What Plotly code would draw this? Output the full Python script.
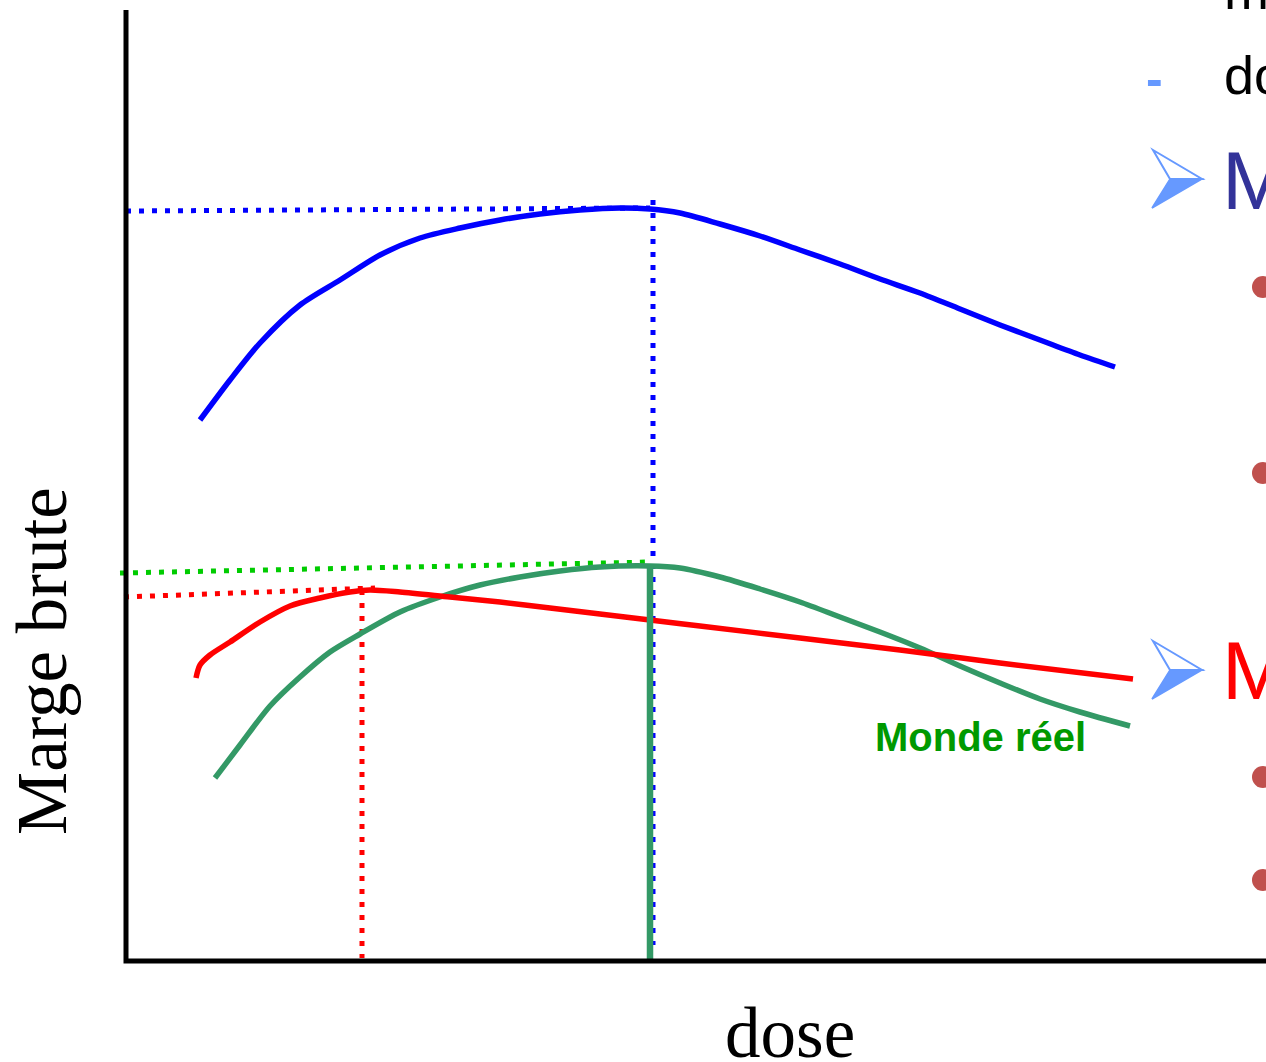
import plotly.graph_objects as go

# ---- data (dose / margin in arbitrary units, origin at axes crossing) ----
blue_dose = [74, 104, 134, 174, 214, 254, 294, 334, 374, 414, 454, 494, 524, 554, 594, 634, 674, 714, 754, 794, 834, 874, 914, 954, 989]
blue_margin = [541, 581, 618, 656, 681, 706, 723, 733, 741, 747, 751, 753, 752, 748, 737, 725, 711, 697, 682, 668, 652, 636, 621, 606, 594]

green_dose = [89, 114, 144, 174, 204, 234, 274, 314, 354, 394, 434, 474, 524, 554, 594, 634, 674, 714, 754, 794, 834, 874, 914, 954, 1004]
green_margin = [183, 216, 255, 284, 309, 327, 349, 364, 376, 384, 390, 394, 395, 393, 384, 372, 359, 344, 329, 313, 295, 278, 262, 249, 235]

red_dose = [70, 74, 84, 104, 134, 164, 194, 224, 244, 274, 324, 374, 424, 474, 524, 574, 674, 774, 874, 1007]
red_margin = [283, 296, 306, 319, 339, 355, 363, 369, 371, 369, 364, 359, 353, 347, 341, 335, 323, 311, 298, 282]

blue_opt = (527, 751)     # optimum dose / margin, theoretical model
green_opt = (524, 397)    # optimum, real world
red_opt = (236, 372)      # optimum, red model

bullet_y = [674, 488, 184, 81]

BLUE = "#0000ff"
GREEN = "#339966"
LGREEN = "#00cc00"
RED = "#ff0000"
ARROW = "#6699ff"

fig = go.Figure()

def line(x, y, color, width, dash="solid", smooth=0.8):
    fig.add_trace(go.Scatter(x=x, y=y, mode="lines", hoverinfo="skip",
                             line=dict(color=color, width=width, dash=dash, shape="spline", smoothing=smooth)))

DOT = "5px,8px"

# dotted guides
line([0, blue_opt[0] - 3], [750, blue_opt[1] + 2], BLUE, 5, DOT)
line([blue_opt[0], blue_opt[0]], [blue_opt[1] + 10, 16], BLUE, 5, DOT)
line([-6, green_opt[0]], [388, green_opt[1] + 2], LGREEN, 5, DOT)
line([-2, red_opt[0] + 13], [364, red_opt[1] + 1], RED, 5, DOT)
line([red_opt[0], red_opt[0]], [red_opt[1] - 1, 3], RED, 5, DOT)

# curves
line(blue_dose, blue_margin, BLUE, 5.5)
line(green_dose, green_margin, GREEN, 5.5)
line(red_dose, red_margin, RED, 5.5)
# real world optimum vertical
line([green_opt[0], green_opt[0]], [green_opt[1] - 2, -2], GREEN, 6.5)

# axes
fig.add_trace(go.Scatter(x=[0, 0, 1140], y=[951, 0, 0], mode="lines", hoverinfo="skip",
                         line=dict(color="black", width=5)))

# bullets at the cut-off right edge
fig.add_trace(go.Scatter(x=[1137] * len(bullet_y), y=bullet_y, mode="markers", hoverinfo="skip",
                         marker=dict(color="#c0504d", size=22)))

# arrowhead bullets (top half outlined, bottom half filled)
shapes = []
for cy in (782, 291):
    shapes.append(dict(type="path", xref="x", yref="y",
                       path=f"M 1027 {cy+29} L 1076 {cy} L 1044 {cy} Z",
                       line=dict(color=ARROW, width=2), fillcolor="white"))
    shapes.append(dict(type="path", xref="x", yref="y",
                       path=f"M 1044 {cy} L 1076 {cy} L 1026 {cy-29} Z",
                       line=dict(color=ARROW, width=1.5), fillcolor=ARROW))

ann = [
    dict(x=854, y=224, text="<b>Monde réel</b>", font=dict(family="Liberation Sans", size=40, color="#009900"),
         xanchor="center", yanchor="middle"),
    dict(x=664, y=-72, text="dose", font=dict(family="Liberation Serif", size=71, color="black"),
         xanchor="center", yanchor="middle"),
    dict(x=-84, y=300, text="Marge brute", textangle=-90, font=dict(family="Liberation Serif", size=71, color="black"),
         xanchor="center", yanchor="middle"),
    dict(x=1096, y=961, yshift=10, text="m", font=dict(family="Liberation Sans", size=54, color="black"),
         xanchor="left", yanchor="middle"),
    dict(x=1096, y=886, text="do", font=dict(family="Liberation Sans", size=54, color="black"),
         xanchor="left", yanchor="middle"),
    dict(x=1028, y=882, text="<b>-</b>", font=dict(family="Liberation Sans", size=50, color=ARROW),
         xanchor="center", yanchor="middle"),
    dict(x=1094, y=781, text="M", font=dict(family="Liberation Sans", size=82, color="#333399"),
         xanchor="left", yanchor="middle"),
    dict(x=1094, y=291, text="M", font=dict(family="Liberation Sans", size=82, color=RED),
         xanchor="left", yanchor="middle"),
]
for a in ann:
    a.update(showarrow=False, xref="x", yref="y")
fig.update_layout(annotations=ann, shapes=shapes)

fig.update_layout(
    width=1266, height=1062, margin=dict(l=0, r=0, t=0, b=0),
    paper_bgcolor="white", plot_bgcolor="white", showlegend=False,
    xaxis=dict(range=[-126, 1140], visible=False, fixedrange=True),
    yaxis=dict(range=[-101, 961], visible=False, fixedrange=True),
)

fig.write_html("out.html")
